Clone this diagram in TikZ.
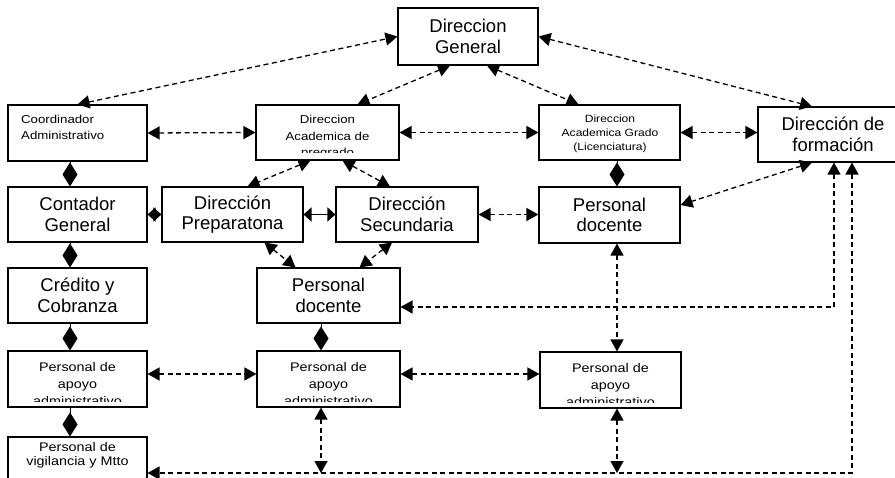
\documentclass[tikz,border=0pt]{standalone}
\usepackage{fontspec}
\setmainfont{Liberation Sans}
\newfontfamily\widesans[FakeStretch=1.15]{Liberation Sans}
\usetikzlibrary{arrows.meta,calc}

\tikzset{
  box/.style={draw, line width=1.1pt, inner sep=0pt, align=center,
    font=\fontsize{18.5}{20.5}\selectfont},
  lblsmall/.style={inner sep=0pt, align=center,
    font=\widesans\fontsize{11.5}{16.5}\selectfont},
  lbltiny/.style={inner sep=0pt, align=center,
    font=\widesans\fontsize{10.5}{14}\selectfont},
  lblmid/.style={inner sep=0pt, align=center,
    font=\widesans\fontsize{12.5}{17}\selectfont},
  link/.style={line width=1.3pt, dash pattern=on 5pt off 3.5pt,
    {Triangle[length=12pt,width=13pt]}-{Triangle[length=12pt,width=13pt]}},
  solidlink/.style={line width=1.2pt,
    {Triangle[length=8pt,width=14pt]}-{Triangle[length=8pt,width=14pt]}},
  agg/.style={line width=1pt, -{Diamond[length=24pt,width=15pt]}},
}

\begin{document}
\begin{tikzpicture}[x=1pt,y=-1pt]
\useasboundingbox (0,0) rectangle (895,478);

% guide columns and rows
\coordinate (cA) at (70,0);
\coordinate (cM) at (321,0);
\coordinate (cR) at (617,0);
\coordinate (cF0) at (812,0);
\coordinate (cF1) at (834,0);
\coordinate (cF2) at (852,0);
\coordinate (rowAp) at (0,374);
\coordinate (rowMid) at (0,307);
\coordinate (rowBot) at (0,473);

% boxes
\node[box, minimum width=140, minimum height=57] (dg) at (468,36.5) {Direccion\\General};

\node[box, minimum width=139, minimum height=56] (coord) at (77.5,133) {};
\node[lblsmall, font=\widesans\fontsize{11.5}{15.5}\selectfont, anchor=north west, align=left]
  (coordT) at (21,115) {Coordinador\\Administrativo};

\node[box, minimum width=143, minimum height=55] (acadP) at (327.5,132.5) {};
\begin{scope}
  \clip ([yshift=8pt]acadP.south west) rectangle (acadP.north east);
  \node[lblsmall, anchor=north] (acadPT) at (327.5,115) {Direccion\\Academica de\\pregrado};
\end{scope}

\node[box, minimum width=141, minimum height=55] (acadG) at (609.5,132.5) {};
\node[lbltiny, anchor=north] (acadGT) at (610,115) {Direccion\\Academica Grado\\(Licenciatura)};

\node[box, minimum width=150, minimum height=55] (form) at (833,134.5) {Dirección de\\formación};

\node[box, minimum width=139, minimum height=55] (cont) at (77.5,214.5) {Contador\\General};
\node[box, minimum width=141, minimum height=55] (prep) at (232.5,214.5) {Dirección\\Preparatona};
\node[box, minimum width=142, minimum height=55] (sec) at (407,214.5) {Dirección\\Secundaria};
\node[box, minimum width=141, minimum height=56] (docR) at (609.5,215) {Personal\\docente};

\node[box, minimum width=139, minimum height=55] (cred) at (77.5,295.5) {Crédito y\\Cobranza};
\node[box, minimum width=143, minimum height=55] (docM) at (328.5,295.5) {Personal\\docente};

\node[box, minimum width=139, minimum height=56] (apL) at (77.5,379) {};
\node[box, minimum width=143, minimum height=56] (apM) at (328.5,379) {};
\node[box, minimum width=141, minimum height=56] (apR) at (610.5,380) {};
\begin{scope}
  \clip ([yshift=6pt]apL.south west) rectangle (apL.north east);
  \node[lblmid, anchor=north] (apLT) at (77.5,362) {Personal de\\apoyo\\administrativo};
\end{scope}
\begin{scope}
  \clip ([yshift=6pt]apM.south west) rectangle (apM.north east);
  \node[lblmid, anchor=north] (apMT) at (328.5,362) {Personal de\\apoyo\\administrativo};
\end{scope}
\begin{scope}
  \clip ([yshift=6pt]apR.south west) rectangle (apR.north east);
  \node[lblmid, anchor=north] (apRT) at (610.5,363) {Personal de\\apoyo\\administrativo};
\end{scope}

\node[box, minimum width=139, minimum height=56] (vig) at (77.5,465) {};
\node[lblmid, font=\widesans\fontsize{12.5}{14.5}\selectfont, anchor=north]
  (vigT) at (77.5,442) {Personal de\\vigilancia y Mtto};

% dashed two-way links
\draw[link] (coord.north) -- (dg.west);
\draw[link] (dg.east) -- (form.north -| cF0);
\draw[link] ([xshift=-18pt]dg.south) -- ([xshift=30pt]acadP.north);
\draw[link] ([xshift=19pt]dg.south) -- ([xshift=-31pt]acadG.north);
\draw[link] (coord.east) -- (acadP.west);
\draw[link] (acadP.east) -- (acadG.west);
\draw[link] (acadG.east) -- (acadG.east -| form.west);
\draw[link] ([xshift=-17pt]acadP.south) -- ([xshift=15pt]prep.north);
\draw[link] ([xshift=15pt]acadP.south) -- ([xshift=-17pt]sec.north);
\draw[link] (sec.east) -- (sec.east -| docR.west);
\draw[link] ([xshift=32pt]prep.south) -- ([xshift=-33pt]docM.north);
\draw[link] ([xshift=-15pt]sec.south) -- ([xshift=31pt]docM.north);
\draw[link] (form.south -| cF0) -- ([yshift=10pt]docR.east);
\draw[link] (form.south -| cF1) -- (cF1 |- rowMid) -- (docM.east |- rowMid);
\draw[link] (form.south -| cF2) -- (cF2 |- rowBot) -- (vig.east |- rowBot);
\draw[link] (docR.south -| cR) -- (apR.north -| cR);
\draw[link] (apL.east |- rowAp) -- (apM.west |- rowAp);
\draw[link] (apM.east |- rowAp) -- (apR.west |- rowAp);
\draw[link] (apM.south -| cM) -- (cM |- rowBot);
\draw[link] (apR.south -| cR) -- (cR |- rowBot);

% solid two-way links
\draw[solidlink] (cont.east) -- (prep.west);
\draw[solidlink] (prep.east) -- (sec.west);

% composition diamonds
\draw[agg] (coord.south -| cA) -- (cont.north -| cA);
\draw[agg] (cont.south -| cA) -- (cred.north -| cA);
\draw[agg] (cred.south -| cA) -- (apL.north -| cA);
\draw[agg] (apL.south -| cA) -- (vig.north -| cA);
\draw[agg] (docM.south -| cM) -- (apM.north -| cM);
\draw[agg] (acadG.south -| cR) -- (docR.north -| cR);
\end{tikzpicture}
\end{document}
